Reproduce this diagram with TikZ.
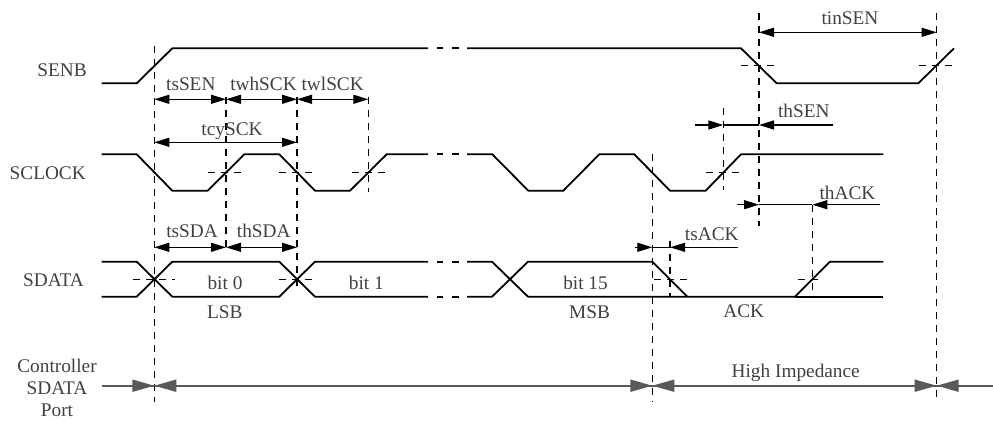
\documentclass[tikz,border=0pt]{standalone}
\usepackage{fontspec}
\setmainfont{Liberation Serif}
\usetikzlibrary{arrows.meta}
\begin{document}
\begin{tikzpicture}[x=1pt,y=-1pt,
  sig/.style={line width=1.8pt, line join=miter, black},
  vguide/.style={dash pattern=on 7pt off 6pt, line width=1.25pt, black},
  hguide/.style={dash pattern=on 7pt off 6pt, line width=1.25pt, black},
  dim/.style={line width=1.2pt, black},
  tip/.style={-{Triangle[length=15pt,width=9pt]}},
  dtip/.style={{Triangle[length=15pt,width=9pt]}-{Triangle[length=15pt,width=9pt]}},
  port/.style={line width=1.8pt, black!65},
  btip/.style={-{Triangle[length=22pt,width=12pt]}},
  lbl/.style={font=\fontsize{19.3}{22}\selectfont, text=black!75, inner sep=0pt, anchor=base},
  sname/.style={font=\fontsize{19.3}{22}\selectfont, text=black!75, inner sep=0pt, anchor=base east},
]
\useasboundingbox (0,0) rectangle (993,421);

% ---- vertical guides
\draw[vguide] (154.3,46) -- (154.3,402);
\draw[vguide] (226,97) -- (226,253);
\draw[vguide] (297,97) -- (297,290);
\draw[vguide] (368.3,97) -- (368.3,192);
\draw[vguide] (652.3,154) -- (652.3,402);
\draw[vguide] (670,241) -- (670,297);
\draw[vguide] (723.3,108) -- (723.3,190);
\draw[vguide] (759,13) -- (759,226);
\draw[vguide] (812.3,205) -- (812.3,297);
\draw[vguide] (936.7,13) -- (936.7,402);

% ---- horizontal mid guides
\draw[hguide] (741,65.7) -- (777,65.7);
\draw[hguide] (919,65.7) -- (954,65.7);
\draw[hguide] (207.7,172.5) -- (244.3,172.5);
\draw[hguide] (279.3,172.5) -- (315,172.5);
\draw[hguide] (351.7,172.5) -- (386.7,172.5);
\draw[hguide] (705.7,172.5) -- (739,172.5);
\draw[hguide] (133,279.2) -- (175,279.2);
\draw[hguide] (279,279.2) -- (315,279.2);
\draw[hguide] (654,279.2) -- (687.3,279.2);
\draw[hguide] (798,279.2) -- (822,279.2);

% ---- SENB
\draw[sig] (101.7,83.3) -- (136.7,83.3) -- (172.3,48.3) -- (428,48.3);
\draw[sig] (437,48.3) -- (443,48.3) (452,48.3) -- (459,48.3);
\draw[sig] (467,48.3) -- (741,48.3) -- (776.7,83.3) -- (918.3,83.3) -- (954,48.3);

% ---- SCLOCK
\draw[sig] (101.7,154.3) -- (136.7,154.3) -- (172.3,190.7) -- (207.7,190.7) -- (244.3,154.3)
  -- (279.3,154.3) -- (315,190.7) -- (350,190.7) -- (386.7,154.3) -- (428,154.3);
\draw[sig] (437,154.3) -- (443,154.3) (452,154.3) -- (459,154.3);
\draw[sig] (467,154.3) -- (492.3,154.3) -- (528.3,190.7) -- (563.3,190.7) -- (599.3,154.3)
  -- (634.3,154.3) -- (670,190.7) -- (705.7,190.7) -- (741,154.3) -- (883.3,154.3);

% ---- SDATA
\draw[sig] (101.7,261.7) -- (136.7,261.7) -- (172.3,296.7) -- (279.3,296.7) -- (315,261.7) -- (428,261.7);
\draw[sig] (101.7,296.7) -- (136.7,296.7) -- (172.3,261.7) -- (279.3,261.7) -- (315,296.7) -- (428,296.7);
\draw[sig] (437,261.7) -- (443,261.7) (452,261.7) -- (459,261.7);
\draw[sig] (437,296.7) -- (443,296.7) (452,296.7) -- (459,296.7);
\draw[sig] (467,261.7) -- (492,261.7) -- (528,296.7) -- (795,296.7) -- (830,261.7) -- (883.3,261.7);
\draw[sig] (467,296.7) -- (492,296.7) -- (528,261.7) -- (652.3,261.7) -- (687.3,296.7);
\draw[sig] (795,296.7) -- (883.3,296.7);

% ---- dimension arrows
\coordinate (a1) at (154.3,99.3);
\coordinate (a2) at (226,99.3);
\coordinate (a3) at (297,99.3);
\coordinate (a4) at (368.3,99.3);
\draw[dim,dtip] (a1) -- (a2);
\draw[dim,dtip] (a2) -- (a3);
\draw[dim,dtip] (a3) -- (a4);

\coordinate (c1) at (154.3,142.3);
\coordinate (c2) at (297,142.3);
\draw[dim,dtip] (c1) -- (c2);

\coordinate (s1) at (154.3,247.3);
\coordinate (s2) at (226,247.3);
\coordinate (s3) at (297,247.3);
\draw[dim,dtip] (s1) -- (s2);
\draw[dim,dtip] (s2) -- (s3);

\coordinate (t1) at (759,32.3);
\coordinate (t2) at (936.7,32.3);
\draw[dim,dtip] (t1) -- (t2);

\coordinate (h0) at (695,125);
\coordinate (h1) at (723.3,125);
\coordinate (h2) at (759,125);
\coordinate (h3) at (833.3,125);
\draw[dim] (h1) -- (h2);
\draw[dim,tip] (h0) -- (h1);
\draw[dim,tip] (h3) -- (h2);

\coordinate (k0) at (736.7,204.7);
\coordinate (k1) at (759,204.7);
\coordinate (k2) at (812.3,204.7);
\coordinate (k3) at (880,204.7);
\draw[dim] (k1) -- (k2);
\draw[dim,tip] (k0) -- (k1);
\draw[dim,tip] (k3) -- (k2);

\coordinate (q0) at (635,247.3);
\coordinate (q1) at (652.3,247.3);
\coordinate (q2) at (670,247.3);
\coordinate (q3) at (737.7,247.3);
\draw[dim] (q1) -- (q2);
\draw[dim,tip] (q0) -- (q1);
\draw[dim,tip] (q3) -- (q2);

% ---- controller port line
\coordinate (p0) at (101.7,385.7);
\coordinate (p1) at (154.3,385.7);
\coordinate (p1r) at (176.5,385.7);
\coordinate (p2l) at (630,385.7);
\coordinate (p2) at (652.3,385.7);
\coordinate (p2r) at (674.5,385.7);
\coordinate (p3l) at (914.5,385.7);
\coordinate (p3) at (936.7,385.7);
\coordinate (p3r) at (959,385.7);
\coordinate (p4) at (993,385.7);
\draw[port] (p0) -- (p4);
\draw[port,btip] (p0) -- (p1);
\draw[port,btip] (p1r) -- (p1);
\draw[port,btip] (p2l) -- (p2);
\draw[port,btip] (p2r) -- (p2);
\draw[port,btip] (p3l) -- (p3);
\draw[port,btip] (p3r) -- (p3);

% ---- labels
\node[sname] (nsenb) at (87,76) {SENB};
\node[sname] (nsclk) at (86,179.3) {SCLOCK};
\node[sname] (nsda) at (84,286.7) {SDATA};
\node[font=\fontsize{19.3}{22}\selectfont, text=black!75, inner sep=0pt, align=center] (nctl) at (57,388.2) {Controller\\SDATA\\Port};

\node[lbl] (ltssen) at (190.8,90.5) {tsSEN};
\node[lbl] (ltwh) at (263.5,90.5) {twhSCK};
\node[lbl] (ltwl) at (332.7,90.5) {twlSCK};
\node[lbl] (ltcy) at (232,135.7) {tcySCK};
\node[lbl] (ltssda) at (192,237.7) {tsSDA};
\node[lbl] (lthsda) at (263.7,237.7) {thSDA};
\node[lbl] (lb0) at (225,289.3) {bit 0};
\node[lbl] (lb1) at (366.3,289.3) {bit 1};
\node[lbl] (lb15) at (585.5,289.3) {bit 15};
\node[lbl] (llsb) at (224.8,318.3) {LSB};
\node[lbl] (lmsb) at (589.5,318.3) {MSB};
\node[lbl] (lack) at (743.8,317.8) {ACK};
\node[lbl] (ltin) at (850,24) {tinSEN};
\node[lbl] (lthsen) at (803.8,117.3) {thSEN};
\node[lbl] (lthack) at (847.5,199) {thACK};
\node[lbl] (ltsack) at (711.8,240) {tsACK};
\node[lbl] (lhi) at (795.7,377.3) {High Impedance};
\end{tikzpicture}
\end{document}
